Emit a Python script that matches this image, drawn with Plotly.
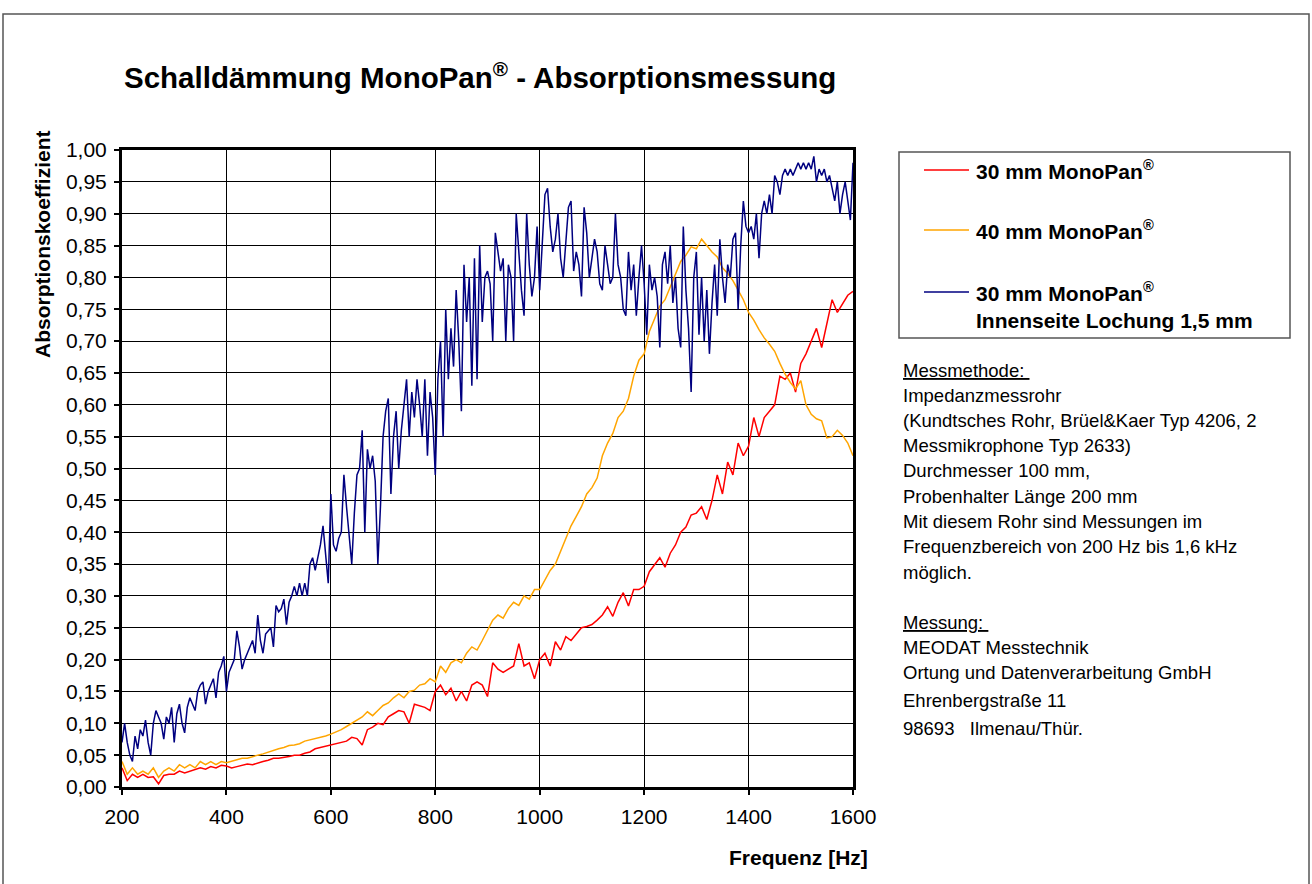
import plotly.graph_objects as go

# ---------------- data ----------------
freq_blue = list(range(200, 1601, 5))    # Hz, blue series sampled every 5 Hz
freq_ro = list(range(200, 1601, 10))     # Hz, red / orange series sampled every 10 Hz

# 30 mm MonoPan (red)
red_30mm = [
    0.03, 0.01, 0.02, 0.015, 0.02, 0.015, 0.016, 0.005, 0.018, 0.02,        # 200-290
    0.02, 0.025, 0.022, 0.025, 0.028, 0.03, 0.028, 0.032, 0.03, 0.034,      # 300-390
    0.033, 0.03, 0.032, 0.034, 0.036, 0.035, 0.038, 0.04, 0.042, 0.045,     # 400-490
    0.045, 0.046, 0.048, 0.05, 0.05, 0.053, 0.055, 0.06, 0.062, 0.064,      # 500-590
    0.066, 0.068, 0.07, 0.072, 0.078, 0.076, 0.066, 0.09, 0.094, 0.10,      # 600-690
    0.098, 0.11, 0.115, 0.12, 0.118, 0.10, 0.13, 0.128, 0.125, 0.12,        # 700-790
    0.15, 0.16, 0.145, 0.155, 0.135, 0.15, 0.135, 0.16, 0.165, 0.16,        # 800-890
    0.142, 0.195, 0.185, 0.18, 0.185, 0.19, 0.225, 0.19, 0.195, 0.17,       # 900-990
    0.20, 0.21, 0.19, 0.228, 0.215, 0.236, 0.23, 0.24, 0.25, 0.252,         # 1000-1090
    0.255, 0.262, 0.27, 0.283, 0.268, 0.29, 0.305, 0.284, 0.31, 0.31,       # 1100-1190
    0.315, 0.338, 0.35, 0.36, 0.345, 0.367, 0.38, 0.40, 0.408, 0.427,       # 1200-1290
    0.43, 0.44, 0.42, 0.45, 0.49, 0.46, 0.51, 0.49, 0.54, 0.52,             # 1300-1390
    0.535, 0.58, 0.55, 0.58, 0.59, 0.60, 0.645, 0.64, 0.65, 0.62,           # 1400-1490
    0.665, 0.68, 0.70, 0.72, 0.69, 0.73, 0.765, 0.745, 0.758, 0.772,        # 1500-1590
    0.778,                                                                   # 1600
]

# 40 mm MonoPan (orange)
orange_40mm = [
    0.04, 0.02, 0.03, 0.02, 0.025, 0.02, 0.03, 0.015, 0.025, 0.03,          # 200-290
    0.025, 0.035, 0.03, 0.035, 0.03, 0.04, 0.035, 0.04, 0.035, 0.04,        # 300-390
    0.038, 0.04, 0.042, 0.045, 0.045, 0.048, 0.05, 0.052, 0.055, 0.058,     # 400-490
    0.06, 0.062, 0.065, 0.066, 0.068, 0.072, 0.074, 0.075, 0.077, 0.08,     # 500-590
    0.083, 0.086, 0.09, 0.095, 0.10, 0.105, 0.11, 0.118, 0.112, 0.12,       # 600-690
    0.128, 0.132, 0.14, 0.146, 0.14, 0.15, 0.152, 0.16, 0.162, 0.17,        # 700-790
    0.165, 0.19, 0.18, 0.195, 0.20, 0.195, 0.21, 0.22, 0.215, 0.23,         # 800-890
    0.245, 0.262, 0.27, 0.265, 0.28, 0.29, 0.285, 0.30, 0.295, 0.31,        # 900-990
    0.31, 0.325, 0.34, 0.35, 0.37, 0.39, 0.41, 0.425, 0.44, 0.46,           # 1000-1090
    0.47, 0.485, 0.52, 0.54, 0.555, 0.58, 0.59, 0.61, 0.645, 0.67,          # 1100-1190
    0.68, 0.715, 0.735, 0.755, 0.765, 0.785, 0.805, 0.825, 0.835, 0.848,    # 1200-1290
    0.845, 0.86, 0.85, 0.84, 0.832, 0.815, 0.806, 0.795, 0.78, 0.765,       # 1300-1390
    0.745, 0.733, 0.718, 0.705, 0.695, 0.684, 0.665, 0.648, 0.635, 0.625,   # 1400-1490
    0.638, 0.60, 0.585, 0.578, 0.575, 0.548, 0.55, 0.56, 0.552, 0.54,       # 1500-1590
    0.52,                                                                    # 1600
]

# 30 mm MonoPan, Innenseite Lochung 1,5 mm (navy)
blue_30mm_perf = [
    0.07, 0.10, 0.07, 0.05, 0.04, 0.08, 0.06, 0.09, 0.08, 0.105,            # 200-245
    0.07, 0.05, 0.10, 0.12, 0.11, 0.10, 0.075, 0.11, 0.10, 0.125,           # 250-295
    0.07, 0.115, 0.13, 0.10, 0.085, 0.125, 0.14, 0.13, 0.12, 0.15,          # 300-345
    0.16, 0.165, 0.13, 0.15, 0.16, 0.17, 0.14, 0.18, 0.19, 0.205,           # 350-395
    0.15, 0.18, 0.19, 0.20, 0.245, 0.22, 0.185, 0.20, 0.21, 0.22,           # 400-445
    0.23, 0.21, 0.27, 0.23, 0.21, 0.24, 0.245, 0.25, 0.22, 0.285,           # 450-495
    0.275, 0.28, 0.295, 0.255, 0.29, 0.30, 0.315, 0.30, 0.32, 0.30,         # 500-545
    0.32, 0.30, 0.35, 0.36, 0.34, 0.36, 0.38, 0.41, 0.36, 0.32,             # 550-595
    0.46, 0.38, 0.37, 0.39, 0.40, 0.49, 0.44, 0.40, 0.35, 0.43,             # 600-645
    0.49, 0.50, 0.56, 0.40, 0.53, 0.50, 0.52, 0.48, 0.35, 0.44,             # 650-695
    0.55, 0.59, 0.61, 0.46, 0.55, 0.59, 0.50, 0.56, 0.60, 0.64,             # 700-745
    0.55, 0.62, 0.58, 0.64, 0.60, 0.55, 0.64, 0.52, 0.62, 0.58,             # 750-795
    0.49, 0.64, 0.70, 0.55, 0.75, 0.64, 0.72, 0.66, 0.78, 0.70,             # 800-845
    0.59, 0.82, 0.73, 0.80, 0.63, 0.83, 0.64, 0.85, 0.73, 0.80,             # 850-895
    0.81, 0.79, 0.70, 0.87, 0.84, 0.81, 0.83, 0.70, 0.82, 0.80,             # 900-945
    0.70, 0.90, 0.84, 0.78, 0.74, 0.90, 0.82, 0.77, 0.80, 0.88,             # 950-995
    0.78, 0.85, 0.93, 0.94, 0.88, 0.84, 0.86, 0.90, 0.83, 0.80,             # 1000-1045
    0.86, 0.91, 0.92, 0.81, 0.84, 0.82, 0.77, 0.91, 0.87, 0.80,             # 1050-1095
    0.83, 0.86, 0.84, 0.79, 0.78, 0.85, 0.82, 0.79, 0.80, 0.90,             # 1100-1145
    0.82, 0.80, 0.75, 0.74, 0.84, 0.78, 0.82, 0.74, 0.80, 0.85,             # 1150-1195
    0.79, 0.71, 0.82, 0.78, 0.80, 0.77, 0.69, 0.82, 0.84, 0.79,             # 1200-1245
    0.85, 0.76, 0.80, 0.72, 0.69, 0.88, 0.78, 0.72, 0.62, 0.80,             # 1250-1295
    0.84, 0.71, 0.80, 0.70, 0.78, 0.68, 0.76, 0.82, 0.74, 0.86,             # 1300-1345
    0.80, 0.76, 0.82, 0.80, 0.86, 0.87, 0.75, 0.85, 0.92, 0.88,             # 1350-1395
    0.87, 0.88, 0.86, 0.90, 0.83, 0.90, 0.92, 0.90, 0.93, 0.90,             # 1400-1445
    0.96, 0.95, 0.93, 0.96, 0.97, 0.96, 0.97, 0.96, 0.97, 0.98,             # 1450-1495
    0.97, 0.98, 0.97, 0.98, 0.97, 0.99, 0.95, 0.97, 0.96, 0.97,             # 1500-1545
    0.95, 0.96, 0.94, 0.92, 0.95, 0.90, 0.93, 0.95, 0.92, 0.89,             # 1550-1595
    0.98,                                                                    # 1600
]

x_ticks = [200, 400, 600, 800, 1000, 1200, 1400, 1600]
y_ticks = [round(i * 0.05, 2) for i in range(21)]
y_tick_labels = [f"{v:.2f}".replace(".", ",") for v in y_ticks]

series_names = ["30 mm MonoPan<sup>®</sup>", "40 mm MonoPan<sup>®</sup>",
                "30 mm MonoPan<sup>®</sup>"]
series_colors = ["#FF0000", "#FFA500", "#000080"]

info_lines = [
    "<u>Messmethode: </u>",
    "Impedanzmessrohr",
    "(Kundtsches Rohr, Brüel&amp;Kaer Typ 4206, 2",
    "Messmikrophone Typ 2633)",
    "Durchmesser 100 mm,",
    "Probenhalter Länge 200 mm",
    "Mit diesem Rohr sind Messungen im",
    "Frequenzbereich von 200 Hz bis 1,6 kHz",
    "möglich.",
    "<u>Messung: </u>",
    "MEODAT Messtechnik",
    "Ortung und Datenverarbeitung GmbH",
    "Ehrenbergstraße 11",
    "98693&nbsp;&nbsp;&nbsp;Ilmenau/Thür.",
]

# ---------------- layout geometry (pixels) ----------------
W, H = 1312, 884
PL, PR, PT, PB = 122, 853, 150, 787
FONT = "Arial, 'Liberation Sans', sans-serif"


def px_x(p):
    return (p - PL) / (PR - PL)


def px_y(p):
    return (PB - p) / (PB - PT)


fig = go.Figure()
fig.add_trace(go.Scatter(x=freq_ro, y=red_30mm, mode="lines",
                         line=dict(color=series_colors[0], width=1.5),
                         name="30 mm MonoPan"))
fig.add_trace(go.Scatter(x=freq_ro, y=orange_40mm, mode="lines",
                         line=dict(color=series_colors[1], width=1.5),
                         name="40 mm MonoPan"))
fig.add_trace(go.Scatter(x=freq_blue, y=blue_30mm_perf, mode="lines",
                         line=dict(color=series_colors[2], width=1.5),
                         name="30 mm MonoPan Innenseite Lochung 1,5 mm"))

axis_common = dict(
    showgrid=True, gridcolor="black", gridwidth=1,
    showline=True, linecolor="black", linewidth=3, mirror=True,
    ticks="outside", ticklen=5, tickwidth=2, tickcolor="black",
    tickfont=dict(family=FONT, size=21, color="black"),
    zeroline=False, fixedrange=True,
)
fig.update_xaxes(range=[200, 1600], tickvals=x_ticks,
                 ticktext=[str(v) for v in x_ticks],
                 ticklabelstandoff=4, **axis_common)
fig.update_yaxes(range=[0, 1], tickvals=y_ticks, ticktext=y_tick_labels,
                 ticklabelstandoff=3, **axis_common)

shapes = []
annotations = []

# outer chart frame
shapes.append(dict(type="rect", xref="paper", yref="paper",
                   x0=px_x(3), x1=px_x(1309), y0=px_y(900), y1=px_y(14),
                   line=dict(color="#555555", width=1.5)))

# title
annotations.append(dict(xref="paper", yref="paper", x=px_x(122), y=px_y(76),
                        xanchor="left", yanchor="middle", showarrow=False,
                        text="<b>Schalldämmung MonoPan<sup>®</sup> - Absorptionsmessung</b>",
                        font=dict(family=FONT, size=29.5, color="black")))
# axis titles
annotations.append(dict(xref="paper", yref="paper", x=px_x(42), y=px_y(244),
                        xanchor="center", yanchor="middle", showarrow=False,
                        textangle=-90, text="<b>Absorptionskoeffizient</b>",
                        font=dict(family=FONT, size=21, color="black")))
annotations.append(dict(xref="paper", yref="paper", x=px_x(870), y=px_y(857),
                        xanchor="right", yanchor="middle", showarrow=False,
                        text="<b>Frequenz [Hz]</b>",
                        font=dict(family=FONT, size=21, color="black")))

# legend box
shapes.append(dict(type="rect", xref="paper", yref="paper",
                   x0=px_x(899), x1=px_x(1290), y0=px_y(338), y1=px_y(152),
                   line=dict(color="#555555", width=1.5), fillcolor="white"))
legend_rows = [170, 230, 292]
for name, color, ry in zip(series_names, series_colors, legend_rows):
    shapes.append(dict(type="line", xref="paper", yref="paper",
                       x0=px_x(924), x1=px_x(969), y0=px_y(ry), y1=px_y(ry),
                       line=dict(color=color, width=1.5)))
    annotations.append(dict(xref="paper", yref="paper", x=px_x(974), y=px_y(ry),
                            xanchor="left", yanchor="middle", showarrow=False,
                            text=f"<b>{name}</b>",
                            font=dict(family=FONT, size=21, color="black")))
annotations.append(dict(xref="paper", yref="paper", x=px_x(974), y=px_y(320),
                        xanchor="left", yanchor="middle", showarrow=False,
                        text="<b>Innenseite Lochung 1,5 mm</b>",
                        font=dict(family=FONT, size=21, color="black")))

# information text block
info_y = [370, 395, 420, 445, 470, 496, 521, 546, 572, 622, 647, 672, 700, 728]
for txt, ty in zip(info_lines, info_y):
    annotations.append(dict(xref="paper", yref="paper", x=px_x(901), y=px_y(ty),
                            xanchor="left", yanchor="middle", showarrow=False,
                            text=txt,
                            font=dict(family=FONT, size=18.5, color="black")))

fig.update_layout(
    width=W, height=H,
    margin=dict(l=PL, r=W - PR, t=PT, b=H - PB, pad=0),
    paper_bgcolor="white", plot_bgcolor="white",
    showlegend=False,
    shapes=shapes, annotations=annotations,
    font=dict(family=FONT, color="black"),
)

fig.write_html("out.html", config={"displayModeBar": False},
               post_script="document.body.style.margin='0';")
